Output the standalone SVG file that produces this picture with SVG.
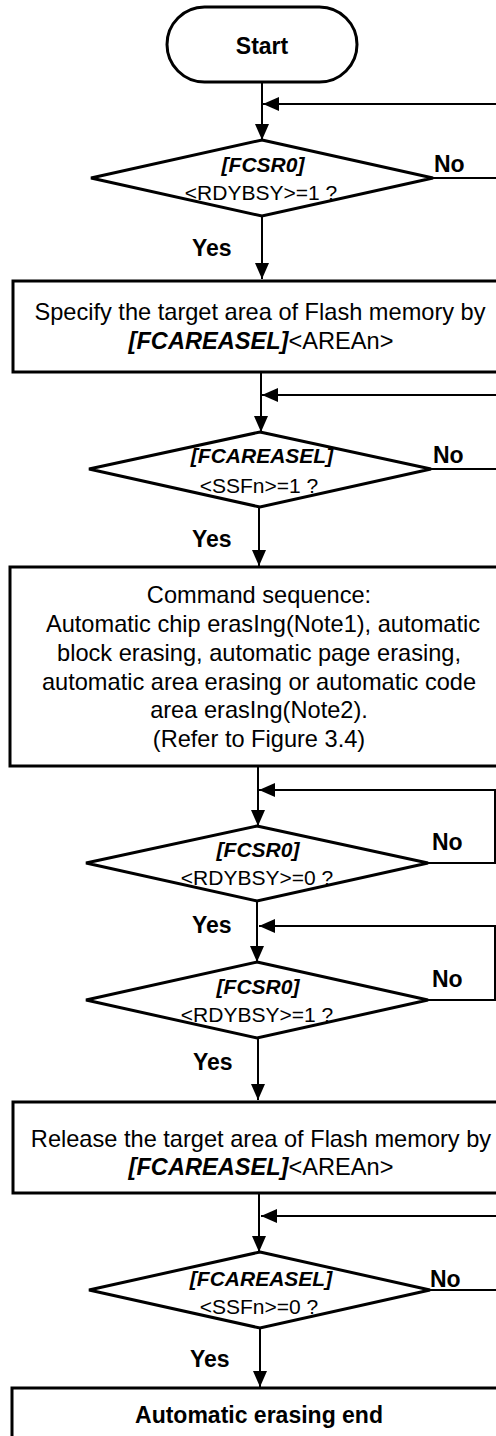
<svg xmlns="http://www.w3.org/2000/svg" width="496" height="1436" viewBox="0 0 496 1436">
<style>
.shape{fill:#fff;stroke:#000;stroke-width:3;stroke-linejoin:miter}
.conn{fill:none;stroke:#000;stroke-width:2}
.t{font-family:"Liberation Sans",Arial,sans-serif;fill:#000}
.box{font-size:23.6px;text-anchor:middle}
.dia{font-size:21px;text-anchor:middle}
.bi{font-weight:bold;font-style:italic}
.lbl{font-size:23px;font-weight:bold}
</style>
<defs>
<marker id="arr" markerUnits="userSpaceOnUse" markerWidth="16" markerHeight="16" refX="16" refY="8" orient="auto">
<path d="M0,1 L16,8 L0,15 z" fill="#000"/>
</marker>
</defs>
<rect width="496" height="1436" fill="#fff"/>
<g id="connectors">
<path class="conn" d="M262,82 V140" marker-end="url(#arr)"/>
<path class="conn" d="M433,178 H512 V104 H263" marker-end="url(#arr)"/>
<path class="conn" d="M262,216 V279" marker-end="url(#arr)"/>
<path class="conn" d="M261,372 V432" marker-end="url(#arr)"/>
<path class="conn" d="M430,469 H512 V395 H262" marker-end="url(#arr)"/>
<path class="conn" d="M259,507 V566" marker-end="url(#arr)"/>
<path class="conn" d="M258,766 V826" marker-end="url(#arr)"/>
<path class="conn" d="M428,863 H495 V790 H259" marker-end="url(#arr)"/>
<path class="conn" d="M257,901 V962" marker-end="url(#arr)"/>
<path class="conn" d="M428,1000 H495 V926 H259" marker-end="url(#arr)"/>
<path class="conn" d="M258,1038 V1100" marker-end="url(#arr)"/>
<path class="conn" d="M259,1193 V1252" marker-end="url(#arr)"/>
<path class="conn" d="M430,1290 H512 V1216 H261" marker-end="url(#arr)"/>
<path class="conn" d="M260,1328 V1387" marker-end="url(#arr)"/>
</g>
<g id="start">
<rect class="shape" x="167" y="7" width="190" height="75" rx="37.5"/>
<text class="t lbl" x="262" y="54" text-anchor="middle">Start</text>
</g>
<g id="dec1">
<polygon class="shape" points="262,140 433,178 262,216 91,178"/>
<text class="t dia bi" x="263" y="172">[FCSR0]</text>
<text class="t dia" x="261" y="200">&lt;RDYBSY&gt;=1 ?</text>
<text class="t lbl" x="434" y="172">No</text>
<text class="t lbl" x="192" y="256">Yes</text>
</g>
<g id="box1">
<rect class="shape" x="13" y="281" width="520" height="91"/>
<text class="t box" x="260" y="320">Specify the target area of Flash memory by</text>
<text class="t box" x="261" y="349"><tspan class="bi">[FCAREASEL]</tspan>&lt;AREAn&gt;</text>
</g>
<g id="dec2">
<polygon class="shape" points="260,432 431,469 260,507 89,469"/>
<text class="t dia bi" x="262" y="463">[FCAREASEL]</text>
<text class="t dia" x="259" y="493">&lt;SSFn&gt;=1 ?</text>
<text class="t lbl" x="433" y="463">No</text>
<text class="t lbl" x="192" y="547">Yes</text>
</g>
<g id="box2">
<rect class="shape" x="10" y="567" width="520" height="199"/>
<text class="t box" x="259" y="603">Command sequence:</text>
<text class="t box" x="263" y="632">Automatic chip erasIng(Note1), automatic</text>
<text class="t box" x="259" y="661">block erasing, automatic page erasing,</text>
<text class="t box" x="259" y="690">automatic area erasing or automatic code</text>
<text class="t box" x="259" y="718">area erasIng(Note2).</text>
<text class="t box" x="259" y="747">(Refer to Figure 3.4)</text>
</g>
<g id="dec3">
<polygon class="shape" points="257,826 428,863 257,901 86,863"/>
<text class="t dia bi" x="258" y="857">[FCSR0]</text>
<text class="t dia" x="257" y="885">&lt;RDYBSY&gt;=0 ?</text>
<text class="t lbl" x="432" y="850">No</text>
<text class="t lbl" x="192" y="933">Yes</text>
</g>
<g id="dec4">
<polygon class="shape" points="257,962 428,1000 257,1038 86,1000"/>
<text class="t dia bi" x="258" y="994">[FCSR0]</text>
<text class="t dia" x="257" y="1022">&lt;RDYBSY&gt;=1 ?</text>
<text class="t lbl" x="432" y="987">No</text>
<text class="t lbl" x="193" y="1070">Yes</text>
</g>
<g id="box3">
<rect class="shape" x="13" y="1102" width="520" height="91"/>
<text class="t box" x="261" y="1147">Release the target area of Flash memory by</text>
<text class="t box" x="261" y="1175"><tspan class="bi">[FCAREASEL]</tspan>&lt;AREAn&gt;</text>
</g>
<g id="dec5">
<polygon class="shape" points="260,1252 430,1290 260,1328 89,1290"/>
<text class="t dia bi" x="261" y="1286">[FCAREASEL]</text>
<text class="t dia" x="259" y="1314">&lt;SSFn&gt;=0 ?</text>
<text class="t lbl" x="430" y="1287">No</text>
<text class="t lbl" x="190" y="1367">Yes</text>
</g>
<g id="end">
<rect class="shape" x="12" y="1388" width="520" height="100"/>
<text class="t lbl" x="259" y="1423" text-anchor="middle">Automatic erasing end</text>
</g>
</svg>
